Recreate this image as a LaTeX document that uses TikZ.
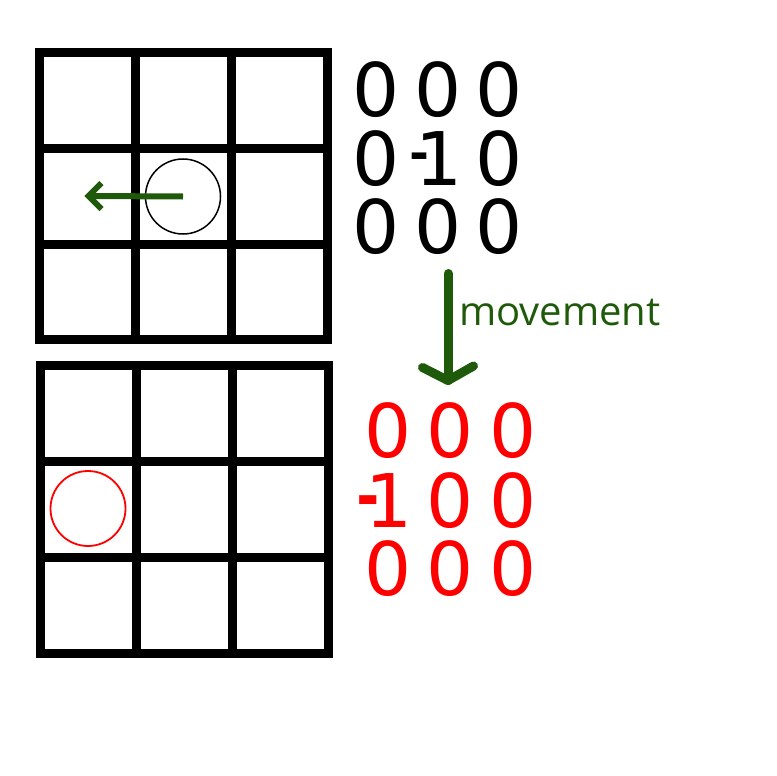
\documentclass[tikz,border=0pt]{standalone}
\usepackage{fontspec}
\newfontfamily\digitfont{DejaVu Sans}
\newfontfamily\labelfont{Open Sans}
\definecolor{mvgreen}{RGB}{30,90,10}
\definecolor{mvred}{RGB}{255,0,0}
\tikzset{
  gridline/.style={line width=9bp, line join=miter, line cap=rect, black},
  digit/.style={inner sep=0pt, anchor=base, font=\digitfont\fontsize{74bp}{80bp}\selectfont},
  blackdigit/.style={digit, text=black},
  reddigit/.style={digit, text=mvred},
  movelbl/.style={inner sep=0pt, anchor=base west, text=mvgreen, font=\labelfont\fontsize{40bp}{46bp}\selectfont},
  smallarrow/.style={draw=mvgreen, line width=6bp, line join=miter},
  bigarrow/.style={draw=mvgreen, line width=9bp, line join=round, line cap=round},
}
\begin{document}
\begin{tikzpicture}[x=1bp, y=-1bp]
\useasboundingbox (0,0) rectangle (776,776);
% top grid
\draw[gridline] (39.5,52.5) rectangle (327.5,339.5);
\draw[gridline] (135.5,52.5) -- (135.5,339.5);
\draw[gridline] (231.5,52.5) -- (231.5,339.5);
\draw[gridline] (39.5,148.5) -- (327.5,148.5);
\draw[gridline] (39.5,244.5) -- (327.5,244.5);
% bottom grid
\draw[gridline] (40.5,365.5) rectangle (328,653);
\draw[gridline] (136.5,365.5) -- (136.5,653);
\draw[gridline] (232.5,365.5) -- (232.5,653);
\draw[gridline] (40.5,461.5) -- (328,461.5);
\draw[gridline] (40.5,557.5) -- (328,557.5);
% agent circles
\node[circle, draw=black, line width=1.5bp, minimum size=75bp, inner sep=0pt] (agent) at (183,196.5) {};
\node[circle, draw=mvred, line width=1.8bp, minimum size=75bp, inner sep=0pt] (moved) at (88,508.5) {};
% small left arrow
\coordinate (ltip) at (88.5,196);
\draw[smallarrow] (agent.center) -- (ltip);
\draw[smallarrow] ([shift={(13,-13)}]ltip) -- (ltip) -- ([shift={(13,13)}]ltip);
% top matrix (black)
\node[blackdigit] (a11) at (376,116) {0};
\node[blackdigit] (a12) at (438,116) {0};
\node[blackdigit] (a13) at (499,116) {0};
\node[blackdigit] (a21) at (376,185) {0};
\node[blackdigit, anchor=base west] (a22) at (409.5,185) {\raisebox{6.3bp}{\scalebox{0.75}[1.1]{-}}\kern-14.5bp 1};
\node[blackdigit] (a23) at (499,185) {0};
\node[blackdigit] (a31) at (376,253.5) {0};
\node[blackdigit] (a32) at (438,253.5) {0};
\node[blackdigit] (a33) at (499,253.5) {0};
% movement arrow
\coordinate (mtop) at (448,273.5);
\coordinate (mtip) at (448,380.5);
\draw[bigarrow] (mtop) -- (mtip);
\draw[bigarrow] (422.5,367.5) -- (mtip) -- (473.5,366);
\node[movelbl] (mv) at (459,325) {movement};
% bottom matrix (red)
\node[reddigit] (b11) at (388.5,457) {0};
\node[reddigit] (b12) at (450.5,457) {0};
\node[reddigit] (b13) at (512.8,457) {0};
\node[reddigit, anchor=base west] (b21) at (356.3,527.7) {\raisebox{-2.3bp}{\scalebox{0.88}[1.5]{-}}\kern-14.3bp 1};
\node[reddigit] (b22) at (450.5,527) {0};
\node[reddigit] (b23) at (512.8,527) {0};
\node[reddigit] (b31) at (388.5,595.7) {0};
\node[reddigit] (b32) at (450.5,595.7) {0};
\node[reddigit] (b33) at (512.8,595.7) {0};
\end{tikzpicture}
\end{document}
